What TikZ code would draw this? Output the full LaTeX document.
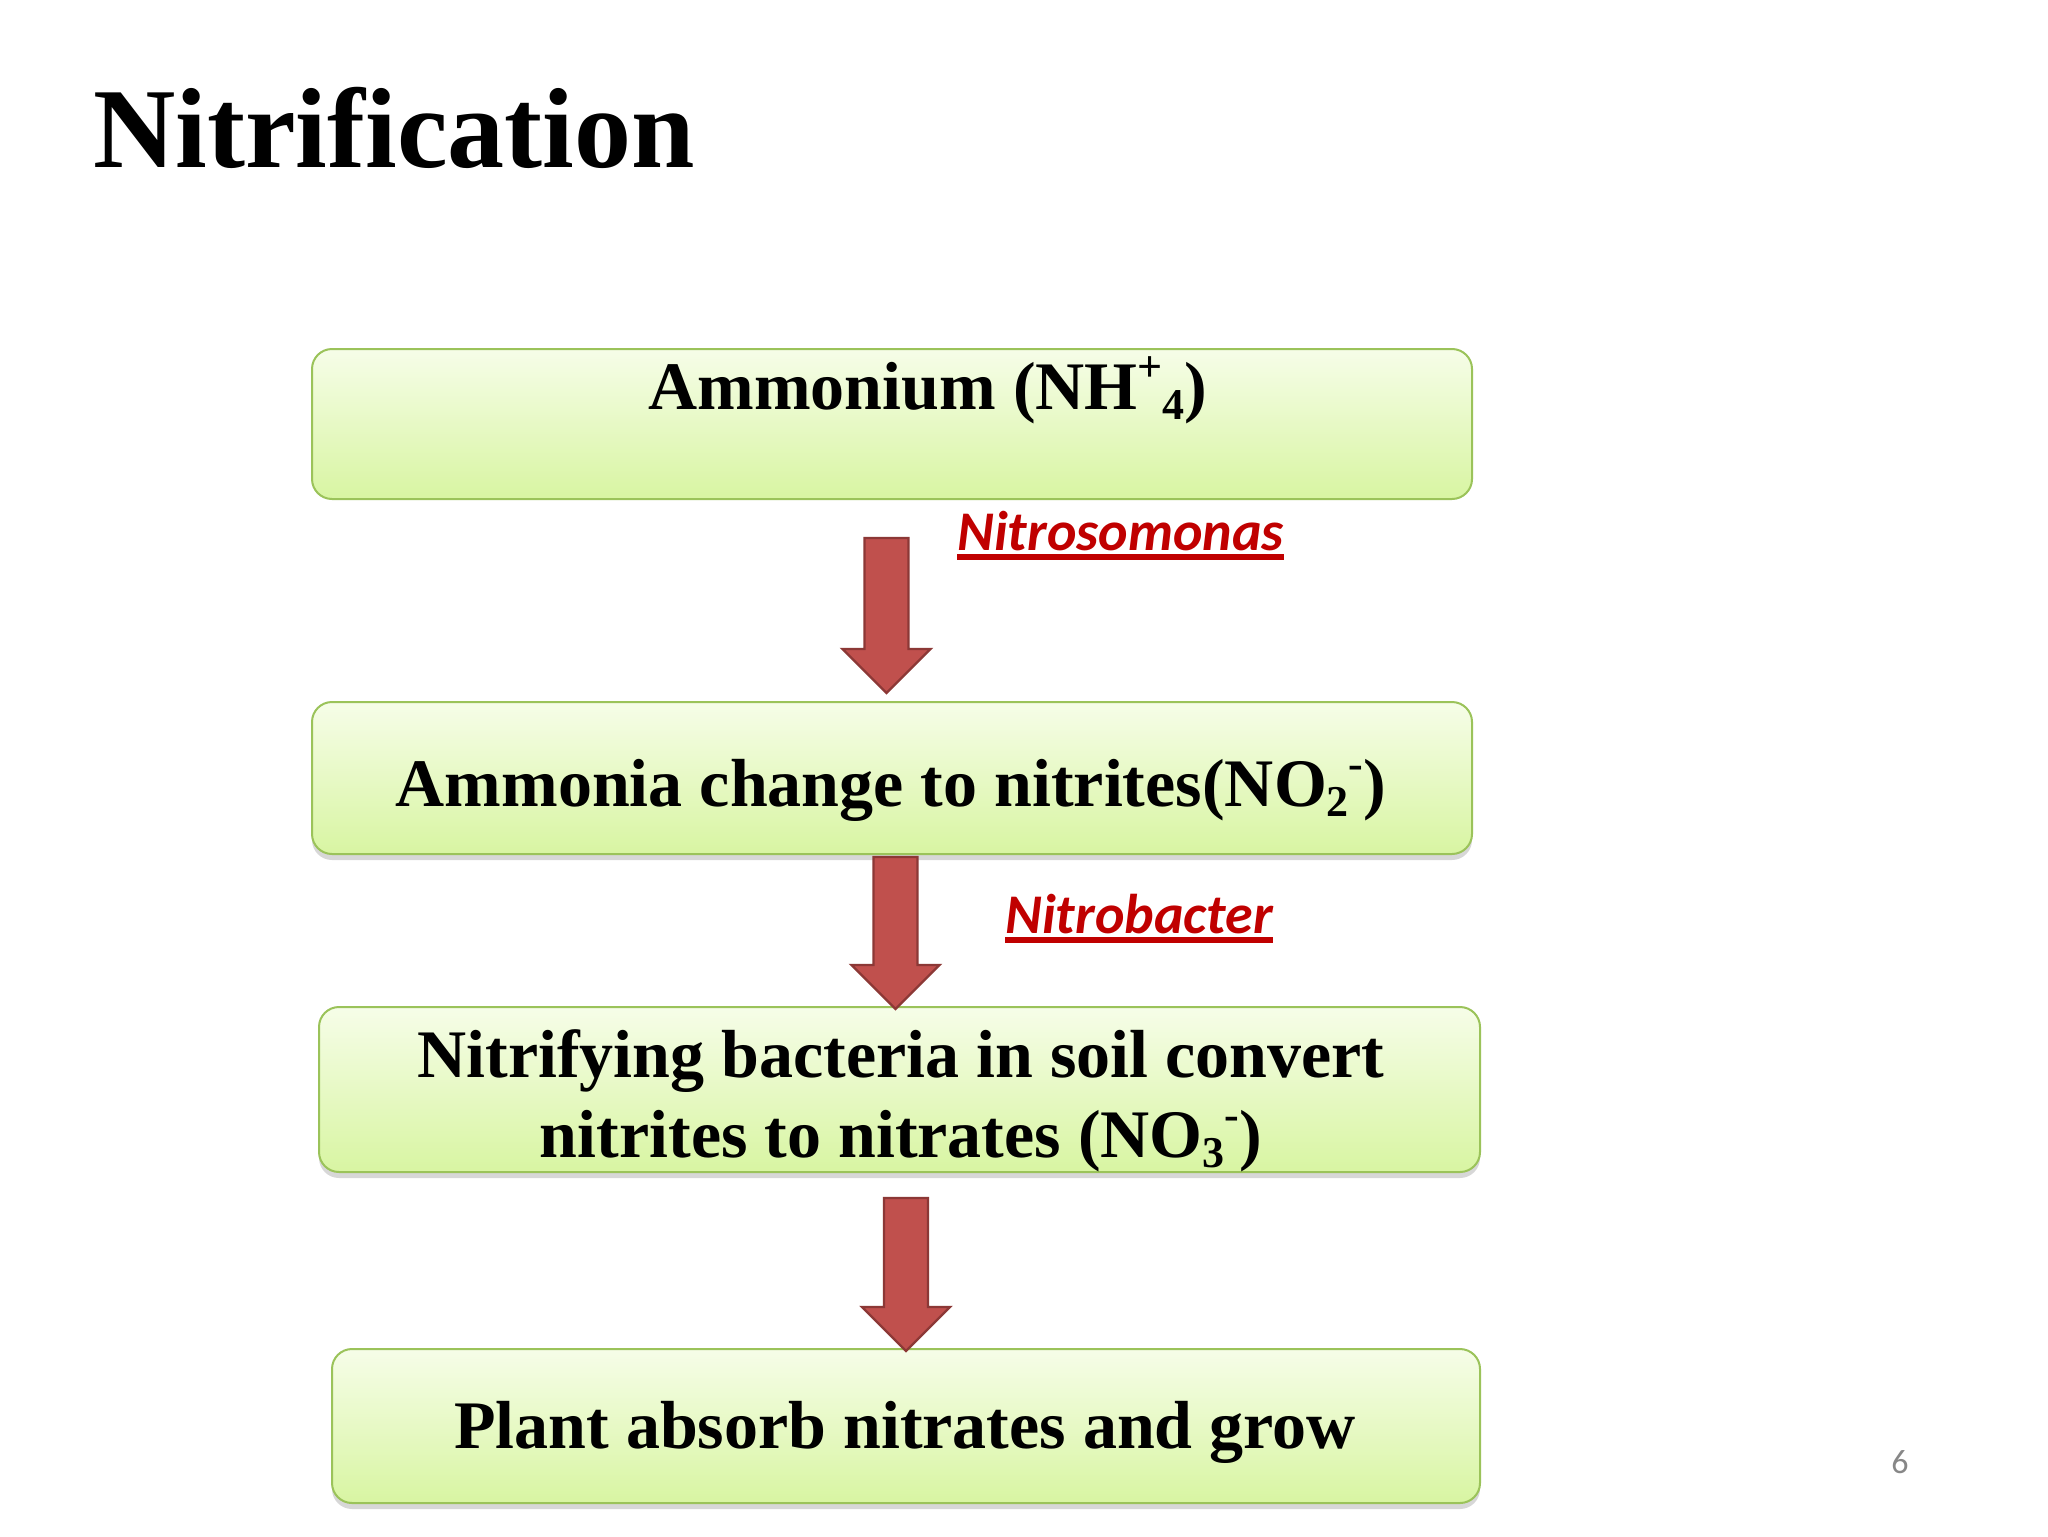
\documentclass[tikz,border=0pt]{standalone}
\usepackage{fontspec}
\setmainfont{Liberation Serif}
\newfontfamily\lblfont{Carlito}
\usetikzlibrary{calc,shadows}

\definecolor{boxtop}{RGB}{246,253,232}
\definecolor{boxbot}{RGB}{216,245,162}
\definecolor{boxline}{RGB}{155,195,90}
\definecolor{arrowfill}{RGB}{192,80,77}
\definecolor{arrowline}{RGB}{140,56,54}
\definecolor{labred}{RGB}{192,0,0}
\definecolor{pagegray}{RGB}{135,135,135}

\newcommand\supx[1]{\raisebox{0.40em}{\fontsize{22}{22}\selectfont #1}}
\newcommand\subx[1]{\raisebox{-0.15em}{\fontsize{22}{22}\selectfont #1}}

\newcommand\blockarrow[2]{%
  \filldraw[fill=arrowfill, draw=arrowline, line width=1.2pt, line join=miter]
    ($(#1)+(-22,0)$) -- ($(#1)+(22,0)$) -- ($(#2)+(22,-44)$) -- ($(#2)+(44,-44)$)
    -- (#2) -- ($(#2)+(-44,-44)$) -- ($(#2)+(-22,-44)$) -- cycle;}

\tikzset{
  flowbox/.style={rectangle, rounded corners=10pt, draw=boxline, line width=1pt,
    top color=boxtop, bottom color=boxbot, inner sep=0pt},
  boxshadow/.style={drop shadow={shadow xshift=0pt, shadow yshift=-3pt, opacity=0.22, fill=black!70}},
  boxtext/.style={inner sep=0pt, anchor=base, font=\fontsize{34}{40}\selectfont\bfseries},
  bact/.style={inner sep=0pt, anchor=base west, text=labred, font=\lblfont\fontsize{28}{32}\selectfont\bfseries\itshape},
  uline/.style={draw=labred, line width=2.6pt},
}

\begin{document}
\begin{tikzpicture}[x=0.5pt, y=-0.5pt]
\fill[white] (0,0) rectangle (2048,1536);
\useasboundingbox (0,0) rectangle (2048,1536);

% title
\node[inner sep=0pt, anchor=base west, font=\fontsize{57}{64}\selectfont\bfseries] (title) at (93,167) {Nitrification};

% boxes
\node[flowbox, minimum width=580pt, minimum height=75pt] (b1) at (892,424) {};
\node[flowbox, boxshadow, minimum width=580pt, minimum height=76pt] (b2) at (892,778) {};
\node[flowbox, boxshadow, minimum width=580.5pt, minimum height=82.5pt] (b3) at (899.5,1089.5) {};
\node[flowbox, boxshadow, minimum width=574pt, minimum height=77pt] (b4) at (906,1426) {};

% box texts
\node[boxtext] (t1) at (928,409) {Ammonium (NH\supx{+}\subx{4})};
\node[boxtext] (t2) at (891,806) {Ammonia change to nitrites(NO\subx{2}\supx{-})};
\node[boxtext] (t3a) at (901,1077) {Nitrifying bacteria in soil convert};
\node[boxtext] (t3b) at (901,1157) {nitrites to nitrates (NO\subx{3}\supx{-})};
\node[boxtext] (t4) at (905,1448) {Plant absorb nitrates and grow};

% arrows
\coordinate (a1s) at (886.5,538);  \coordinate (a1e) at (886.5,693);
\coordinate (a2s) at (895.5,857);  \coordinate (a2e) at (895.5,1009);
\coordinate (a3s) at (906,1198);   \coordinate (a3e) at (906,1351);
\blockarrow{a1s}{a1e}
\blockarrow{a2s}{a2e}
\blockarrow{a3s}{a3e}

% bacteria labels
\node[bact] (lab1) at (957,550) {Nitrosomonas};
\draw[uline] ($(lab1.base west)+(0,7)$) -- ($(lab1.base east)+(0,7)$);
\node[bact] (lab2) at (1005,933) {Nitrobacter};
\draw[uline] ($(lab2.base west)+(0,7)$) -- ($(lab2.base east)+(0,7)$);

% page number
\node[inner sep=0pt, anchor=base, text=pagegray, font=\lblfont\fontsize{17}{20}\selectfont] (pg) at (1900,1473) {6};
\end{tikzpicture}
\end{document}
